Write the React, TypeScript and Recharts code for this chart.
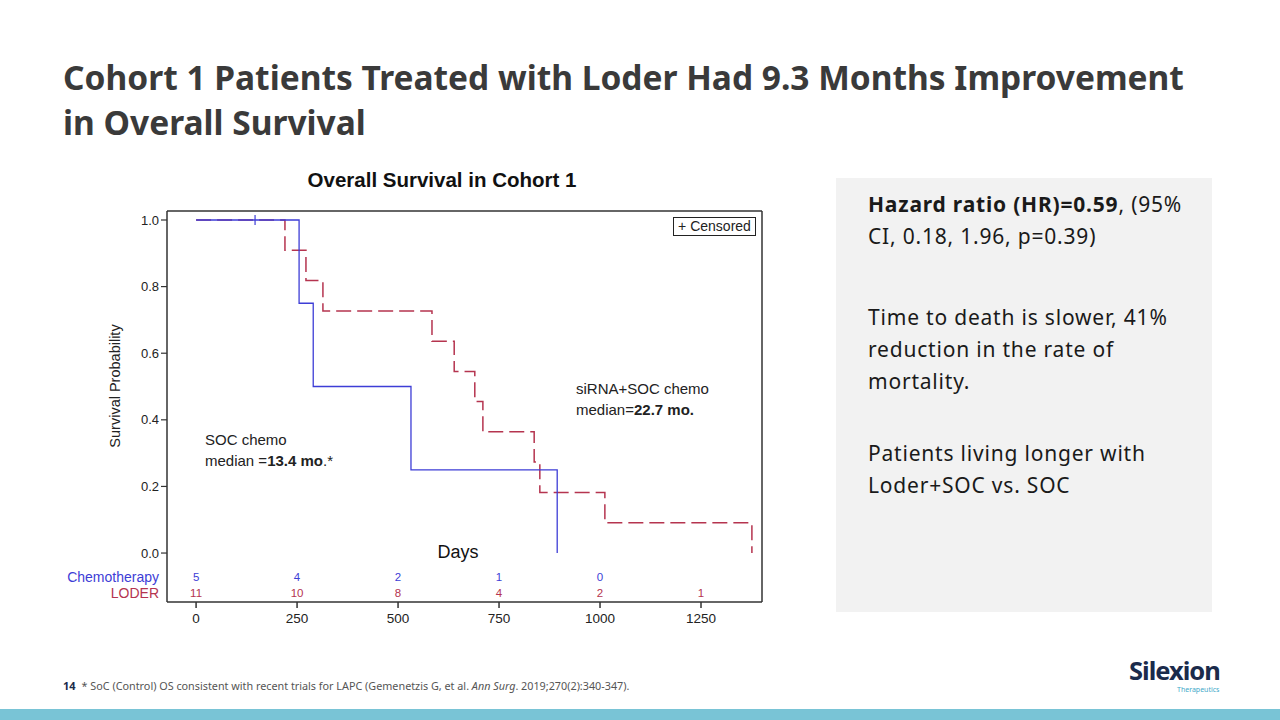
import React from "react"
import {
  LineChart,
  Line,
  XAxis,
  YAxis,
  Scatter,
  ReferenceLine,
} from "recharts"

// Kaplan-Meier steps (days, survival probability)
const socDays = [0, 255, 290, 532, 894]
const socSurv = [1, 0.75, 0.5, 0.25, 0]
const loderDays = [0, 220, 272, 314, 584, 639, 690, 710, 837, 851, 1012, 1376]
const loderSurv = [1, 0.909, 0.818, 0.727, 0.636, 0.545, 0.455, 0.364, 0.273, 0.182, 0.091, 0]
const censorDays = [146]
const censorSurv = [1]

// numbers at risk
const riskDays = [0, 250, 500, 750, 1000, 1250]
const chemoRisk = [5, 4, 2, 1, 0]
const loderRisk = [11, 10, 8, 4, 2, 1]

const xTicks = [0, 250, 500, 750, 1000, 1250]
const yTicks = [0, 0.2, 0.4, 0.6, 0.8, 1.0]

const CHEMO_ROW = -0.072
const LODER_ROW = -0.12
const X_DOMAIN = [-72, 1401]
const Y_DOMAIN = [-0.147, 1.027]

const BLUE = "#3d3dd6"
const RED = "#b5344f"
const AXIS = "#333"
const CHART_FONT = "'Liberation Sans', Arial, sans-serif"
const SLIDE_FONT = "'Noto Sans', 'Open Sans', sans-serif"

const socData = socDays.map((d, i) => ({ day: d, surv: socSurv[i] }))
const loderData = loderDays.map((d, i) => ({ day: d, surv: loderSurv[i] }))
const censorData = censorDays.map((d, i) => ({ day: d, surv: censorSurv[i] }))
const chemoRiskData = chemoRisk.map((n, i) => ({ day: riskDays[i], surv: CHEMO_ROW, n }))
const loderRiskData = loderRisk.map((n, i) => ({ day: riskDays[i], surv: LODER_ROW, n }))

function YTick(props: any) {
  const { x, y, payload } = props
  const v = payload.value
  if (v < 0) {
    const isChemo = Math.abs(v - CHEMO_ROW) < 0.001
    return (
      <text x={x} y={y} dy="0.35em" textAnchor="end" fontSize={14} fontFamily={CHART_FONT} fill={isChemo ? BLUE : RED}>
        {isChemo ? "Chemotherapy" : "LODER"}
      </text>
    )
  }
  return (
    <g>
      <line x1={x + 2} x2={x + 8} y1={y} y2={y} stroke={AXIS} strokeWidth={1.2} />
      <text x={x} y={y} dy="0.35em" textAnchor="end" fontSize={13} fontFamily={CHART_FONT} fill="#222">
        {v.toFixed(1)}
      </text>
    </g>
  )
}

const riskShape = (color: string) => (props: any) => (
  <text x={props.cx} y={props.cy} dy="0.35em" textAnchor="middle" fontSize={11.5} fontFamily={CHART_FONT} fill={color}>
    {props.payload.n}
  </text>
)

const censorShape = (props: any) => (
  <line x1={props.cx} x2={props.cx} y1={props.cy - 5} y2={props.cy + 5} stroke={BLUE} strokeWidth={1.2} />
)

function KMChart() {
  return (
    <LineChart
      width={720}
      height={445}
      margin={{ top: 16, right: 18, left: 47, bottom: 8 }}
    >
      <XAxis
        type="number"
        dataKey="day"
        domain={X_DOMAIN}
        allowDataOverflow
        ticks={xTicks}
        tickSize={6}
        tickMargin={5}
        stroke={AXIS}
        strokeWidth={1.5}
        height={30}
        tick={{ fontSize: 13.5, fontFamily: CHART_FONT, fill: "#222" }}
      />
      <YAxis
        type="number"
        dataKey="surv"
        domain={Y_DOMAIN}
        allowDataOverflow
        ticks={[LODER_ROW, CHEMO_ROW, ...yTicks]}
        tickLine={false}
        tick={<YTick />}
        stroke={AXIS}
        strokeWidth={1.5}
        width={60}
        interval={0}
      />
      <ReferenceLine y={Y_DOMAIN[1]} stroke={AXIS} strokeWidth={1.5} ifOverflow="visible" />
      <ReferenceLine x={X_DOMAIN[1]} stroke={AXIS} strokeWidth={1.5} ifOverflow="visible" />
      <Line
        data={loderData}
        dataKey="surv"
        type="stepAfter"
        stroke={RED}
        strokeWidth={1.5}
        strokeDasharray="15 6"
        dot={false}
        isAnimationActive={false}
      />
      <Line
        data={socData}
        dataKey="surv"
        type="stepAfter"
        stroke={BLUE}
        strokeWidth={1.3}
        dot={false}
        isAnimationActive={false}
      />
      <Scatter data={censorData} dataKey="surv" shape={censorShape} isAnimationActive={false} />
      <Scatter data={chemoRiskData} dataKey="surv" shape={riskShape(BLUE)} isAnimationActive={false} />
      <Scatter data={loderRiskData} dataKey="surv" shape={riskShape(RED)} isAnimationActive={false} />
    </LineChart>
  )
}

const abs = (left: number, top: number, extra: React.CSSProperties = {}): React.CSSProperties => ({
  position: "absolute",
  left,
  top,
  whiteSpace: "nowrap",
  ...extra,
})

export default function App() {
  return (
    <div style={{ position: "absolute", left: 0, top: 0, width: 1280, height: 720, background: "#fff", overflow: "hidden", fontFamily: SLIDE_FONT }}>
      <div style={abs(63, 55, { fontSize: 33.5, fontWeight: 700, color: "#3a3a3a", lineHeight: "45px" })}>
        Cohort 1 Patients Treated with Loder Had 9.3 Months Improvement
        <br />
        in Overall Survival
      </div>

      <div style={abs(60, 195)}>
        <KMChart />
      </div>

      <div style={abs(442, 168, { transform: "translateX(-50%)", fontFamily: CHART_FONT, fontWeight: 700, fontSize: 20.5, color: "#111" })}>
        Overall Survival in Cohort 1
      </div>
      <div style={abs(105, 386, { transform: "translate(-50%, -50%) rotate(-90deg)", transformOrigin: "center", fontFamily: CHART_FONT, fontSize: 14.5, color: "#222", marginLeft: 10 })}>
        Survival Probability
      </div>
      <div style={abs(458, 542, { transform: "translateX(-50%)", fontFamily: CHART_FONT, fontSize: 18, color: "#111" })}>
        Days
      </div>
      <div style={abs(673, 217, { width: 81, height: 17, border: "1px solid #222", fontFamily: CHART_FONT, fontSize: 14, color: "#222", lineHeight: "17px", textAlign: "center" })}>
        + Censored
      </div>
      <div style={abs(205, 429, { fontFamily: CHART_FONT, fontSize: 15, color: "#222", lineHeight: "21px" })}>
        SOC chemo
        <br />
        median =<b>13.4 mo</b>.*
      </div>
      <div style={abs(576, 378, { fontFamily: CHART_FONT, fontSize: 15, color: "#222", lineHeight: "21px" })}>
        siRNA+SOC chemo
        <br />
        median=<b>22.7 mo.</b>
      </div>

      <div style={abs(836, 178, { width: 376, height: 434, background: "#f2f2f2" })} />
      <div style={abs(868, 188, { fontSize: 21, letterSpacing: 0.8, color: "#1a1a1a", lineHeight: "32px" })}>
        <b>Hazard ratio (HR)=0.59</b>, (95%
        <br />
        CI, 0.18, 1.96, p=0.39)
        <div style={{ height: 49 }} />
        Time to death is slower, 41%
        <br />
        reduction in the rate of
        <br />
        mortality.
        <div style={{ height: 40 }} />
        Patients living longer with
        <br />
        Loder+SOC vs. SOC
      </div>

      <div style={abs(63, 678, { fontSize: 10.8, color: "#555" })}>
        <b style={{ color: "#1b2b4b", fontSize: 11 }}>14</b>
        <span style={{ marginLeft: 6 }}>
          * SoC (Control) OS consistent with recent trials for LAPC (Gemenetzis G, et al. <i>Ann Surg</i>. 2019;270(2):340-347).
        </span>
      </div>

      <div style={abs(1129, 657, { fontSize: 25.5, fontWeight: 700, color: "#1b2b4b", letterSpacing: -1, lineHeight: "26px" })}>
        Silexion
      </div>
      <div style={abs(1177, 685, { fontSize: 7, color: "#3fa9c9", lineHeight: "9px" })}>Therapeutics</div>

      <div style={abs(0, 709, { width: 1280, height: 11, background: "#79c4d6" })} />
    </div>
  )
}
